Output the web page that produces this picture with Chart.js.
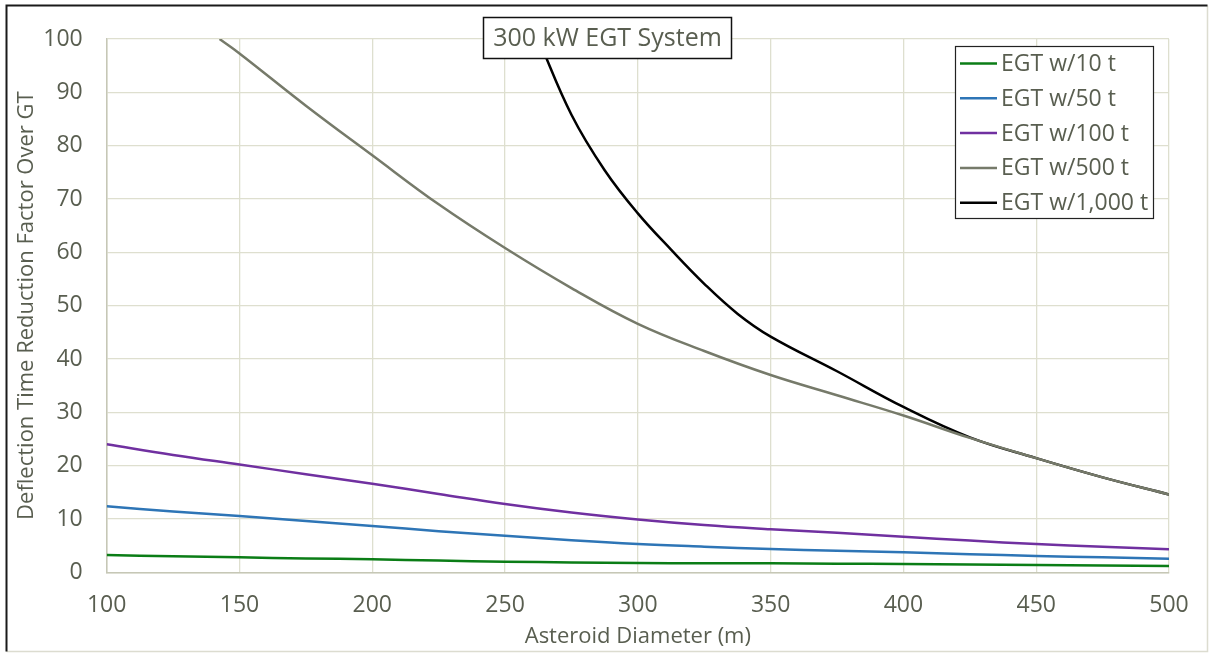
<!DOCTYPE html>
<html>
<head>
<meta charset="utf-8">
<script src="https://cdn.jsdelivr.net/npm/chart.js@4"></script>
<style>
  html, body { margin: 0; padding: 0; background: #ffffff; }
  #wrap { width: 1209px; height: 653px; position: relative; }
</style>
</head>
<body>
<div id="wrap"><canvas id="c" width="1209" height="653"></canvas></div>
<script>
// ---- data ----
const chartTitle = "300 kW EGT System";
const xTitle = "Asteroid Diameter (m)";
const yTitle = "Deflection Time Reduction Factor Over GT";

const diameters = [100,125,150,175,200,225,250,275,300,325,350,375,400,425,450,475,500];
const egt10  = [3.25,3.0,2.8,2.6,2.44,2.2,2.0,1.85,1.74,1.7,1.68,1.62,1.55,1.46,1.37,1.28,1.18];
const egt50  = [12.4,11.4,10.56,9.6,8.7,7.7,6.87,6.0,5.3,4.8,4.37,4.05,3.75,3.4,3.06,2.8,2.55];
const egt100 = [24.0,22.0,20.2,18.4,16.6,14.7,12.8,11.2,9.9,8.85,8.07,7.4,6.65,5.95,5.3,4.8,4.3];

const diam500 = [142.5,150,175,200,225,250,275,300,325,350,375,400,425,450,475,500];
const egt500  = [100,97.3,87.5,78.2,69.0,60.8,53.3,46.6,41.5,37.0,33.2,29.4,25.2,21.4,17.8,14.6];

const diam1000 = [262.5,275,287.5,300,312.5,325,337.5,350,375,400,425,450,475,500];
const egt1000  = [100,85.8,75.4,67.3,60.5,54.1,48.5,44.2,37.7,31.0,25.3,21.4,17.8,14.6];

const seriesLabels = ["EGT w/10 t","EGT w/50 t","EGT w/100 t","EGT w/500 t","EGT w/1,000 t"];
const seriesColors = ["#0b7d16","#2e75b6","#7030a0","#767a6a","#000000"];

const xTicks = [100,150,200,250,300,350,400,450,500];
const yTicks = [0,10,20,30,40,50,60,70,80,90,100];

// ---- build ----
function pts(xs, ys) { return xs.map((x, i) => ({ x: x, y: ys[i] })); }
const seriesData = [
  pts(diameters, egt10),
  pts(diameters, egt50),
  pts(diameters, egt100),
  pts(diam500, egt500),
  pts(diam1000, egt1000)
];

const FONT = "'Open Sans', 'Lato', sans-serif";
const TEXT = "#595e50";
const GRID = "#dedfcf";

const decor = {
  id: 'decor',
  afterDraw(chart) {
    const ctx = chart.ctx;
    ctx.save();
    // outer border
    ctx.lineWidth = 1.5;
    ctx.strokeStyle = "#dcdcd0";
    ctx.beginPath();
    ctx.moveTo(1207.5, 5.5); ctx.lineTo(1207.5, 651.5); ctx.lineTo(6.5, 651.5);
    ctx.stroke();
    ctx.strokeStyle = "#1a1a1a";
    ctx.lineWidth = 2;
    ctx.beginPath();
    ctx.moveTo(6.5, 651.5); ctx.lineTo(6.5, 5.5); ctx.lineTo(1207.5, 5.5);
    ctx.stroke();

    // title box
    ctx.fillStyle = "#ffffff";
    ctx.fillRect(483, 17, 249, 42);
    ctx.strokeStyle = "#111111";
    ctx.lineWidth = 1.5;
    ctx.strokeRect(483.5, 17.5, 248, 41);
    ctx.fillStyle = TEXT;
    ctx.font = "25px " + FONT;
    ctx.textAlign = "center";
    ctx.textBaseline = "middle";
    ctx.fillText(chartTitle, 607.5, 39);

    // legend box
    ctx.fillStyle = "#ffffff";
    ctx.fillRect(955, 46, 199, 173);
    ctx.strokeStyle = "#222222";
    ctx.lineWidth = 1.2;
    ctx.strokeRect(955.5, 46.5, 198, 172);
    ctx.font = "23px " + FONT;
    ctx.textAlign = "left";
    ctx.textBaseline = "middle";
    chart.data.datasets.forEach((ds, i) => {
      const y = 63.5 + i * 34.8;
      ctx.strokeStyle = ds.borderColor;
      ctx.lineWidth = 2.5;
      ctx.beginPath();
      ctx.moveTo(960, y); ctx.lineTo(997, y);
      ctx.stroke();
      ctx.fillStyle = TEXT;
      ctx.fillText(ds.label, 1001, y + 1);
    });
    ctx.restore();
  }
};

new Chart(document.getElementById('c'), {
  type: 'line',
  data: {
    datasets: seriesData.map((d, i) => ({
      label: seriesLabels[i],
      data: d,
      borderColor: seriesColors[i],
      backgroundColor: seriesColors[i],
      borderWidth: 2.5,
      pointRadius: 0,
      fill: false,
      tension: 0.4
    }))
  },
  options: {
    responsive: false,
    animation: false,
    events: [],
    layout: { padding: { left: 7, top: 39, right: 40, bottom: 0 } },
    plugins: {
      legend: { display: false },
      tooltip: { enabled: false },
      title: { display: false }
    },
    scales: {
      x: {
        type: 'linear',
        min: 100, max: 500,
        afterFit(s) { s.height = 80.7; },
        afterBuildTicks(s) { s.ticks = xTicks.map(v => ({ value: v })); },
        grid: { color: GRID, lineWidth: 1.3, drawTicks: false },
        border: { color: "#c6c7b6", width: 1.5 },
        ticks: { color: TEXT, font: { family: FONT, size: 23 }, padding: 19, maxRotation: 0 },
        title: { display: true, text: xTitle, color: TEXT, font: { family: FONT, size: 22 }, padding: { top: 0, bottom: 3 } }
      },
      y: {
        type: 'linear',
        min: 0, max: 100,
        afterFit(s) { s.width = 99.7; },
        afterBuildTicks(s) { s.ticks = yTicks.map(v => ({ value: v })); },
        grid: { color: GRID, lineWidth: 1.3, drawTicks: false },
        border: { color: "#c6c7b6", width: 1.5 },
        ticks: { color: TEXT, font: { family: FONT, size: 23 }, padding: 24 },
        title: { display: true, text: yTitle, color: TEXT, font: { family: FONT, size: 22 }, padding: { top: 7, bottom: 0 } }
      }
    }
  },
  plugins: [decor]
});
</script>
</body>
</html>
